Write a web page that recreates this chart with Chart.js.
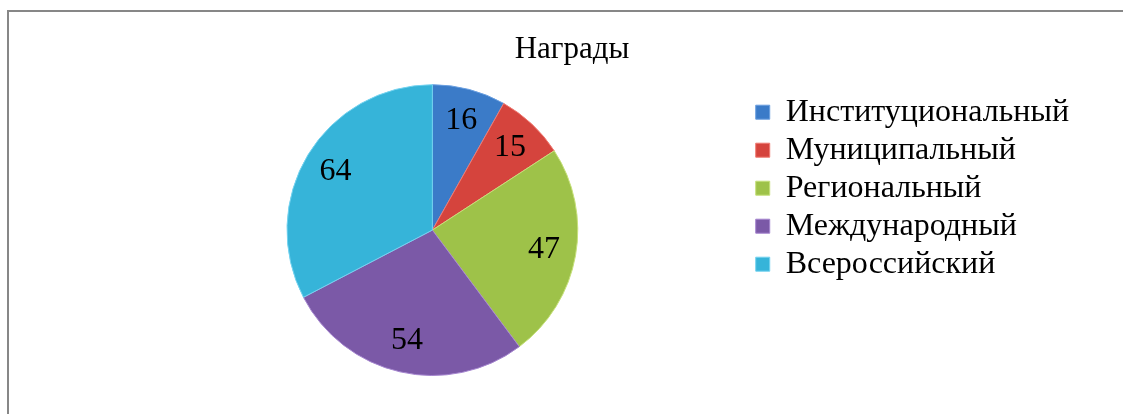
<!DOCTYPE html>
<html>
<head>
<meta charset="utf-8">
<script src="https://cdn.jsdelivr.net/npm/chart.js@4.4.1/dist/chart.umd.min.js"></script>
<style>
  html, body { margin: 0; padding: 0; background: #ffffff; overflow: hidden; }
  #wrap { position: relative; width: 1123px; height: 414px; }
  #frame { position: absolute; left: 7px; top: 10px; right: 0; bottom: 0;
           border-left: 2px solid #878787; border-top: 2px solid #878787; }
  canvas { position: absolute; left: 0; top: 0; }
</style>
</head>
<body>
<div id="wrap">
  <div id="frame"></div>
  <canvas id="c" width="1123" height="414"></canvas>
</div>
<script>
const chartTitle = 'Награды';
const categories = ['Институциональный', 'Муниципальный', 'Региональный', 'Международный', 'Всероссийский'];
const values = [16, 15, 47, 54, 64];
const sliceColors = ['#3b7bc8', '#d5443d', '#9ec249', '#7b59a7', '#36b4d9'];
const sliceEdges = ['#6a9fe0', '#f07a72', '#c6e07a', '#a585cf', '#74d3f0'];

const serif = "'Liberation Serif', 'Times New Roman', serif";

const valueLabels = {
  id: 'valueLabels',
  afterDatasetsDraw(chart) {
    const ctx = chart.ctx;
    const meta = chart.getDatasetMeta(0);
    ctx.save();
    ctx.font = '32px ' + serif;
    ctx.fillStyle = '#000000';
    ctx.textAlign = 'center';
    ctx.textBaseline = 'middle';
    meta.data.forEach((arc, i) => {
      const p = arc.getProps(['x', 'y', 'startAngle', 'endAngle', 'outerRadius'], true);
      const mid = (p.startAngle + p.endAngle) / 2;
      const r = p.outerRadius * 0.78;
      ctx.fillText(String(values[i]), p.x + Math.cos(mid) * r, p.y + Math.sin(mid) * r);
    });
    ctx.restore();
  }
};

// shift the title block so it sits where the original chart put it
const titleShift = {
  id: 'titleShift',
  afterLayout(chart) {
    const t = chart.titleBlock;
    if (t) { t.left -= 50; }
  }
};

new Chart(document.getElementById('c'), {
  type: 'pie',
  data: {
    labels: categories,
    datasets: [{
      data: values,
      backgroundColor: sliceColors,
      borderColor: sliceEdges,
      borderWidth: 1
    }]
  },
  options: {
    responsive: false,
    animation: false,
    layout: { padding: { left: 115, right: 44, top: 21, bottom: 38 } },
    plugins: {
      title: {
        display: true,
        text: chartTitle,
        color: '#000000',
        font: { family: serif, size: 31, weight: 'normal', lineHeight: 1.2 },
        padding: { top: 10, bottom: 16 }
      },
      legend: {
        position: 'right',
        align: 'start',
        fullSize: false,
        title: { display: true, text: '', font: { size: 5, lineHeight: 1.2 }, padding: 0 },
        labels: {
          color: '#000000',
          font: { family: serif, size: 32 },
          boxWidth: 14,
          boxHeight: 14,
          padding: 6
        }
      },
      tooltip: { enabled: false }
    }
  },
  plugins: [valueLabels, titleShift]
});
</script>
</body>
</html>
